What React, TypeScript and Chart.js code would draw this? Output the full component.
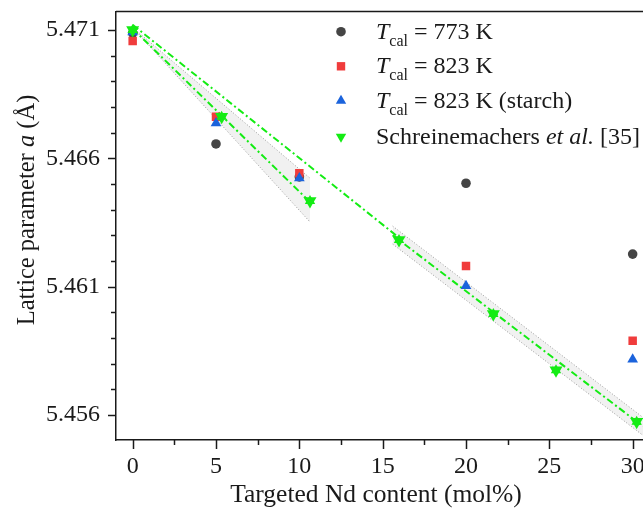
import React, { useEffect, useRef } from 'react';
import { Chart, registerables } from 'chart.js';

Chart.register(...registerables);

// ---- data ----
const tcalX = [0, 5, 10, 20, 30];
const t773 = [5.47088, 5.46656, 5.46528, 5.46503, 5.46227];
const t823 = [5.47057, 5.46762, 5.46542, 5.46181, 5.4589];
const t823Starch = [5.47092, 5.46737, 5.46523, 5.46103, 5.45817];

const schX = [0, 5.34, 10.64, 15.98, 21.64, 25.4, 30.24];
const schY = [5.471, 5.46762, 5.46434, 5.46282, 5.45994, 5.45775, 5.45574];

const fitAllX = [0, 16];
const fitAllY = [5.4712, 5.4629];
const fitLowX = [0, 10.64];
const fitLowY = [5.47105, 5.4643];
const fitHighX = [15.6, 30.62];
const fitHighY = [5.46301, 5.45556];

const bandLowX = [0, 10.64];
const bandLowUpper = [5.4711, 5.46523];
const bandLowLower = [5.4711, 5.46352];
const bandHighX = [15.6, 30.62];
const bandHighUpper = [5.46336, 5.45591];
const bandHighLower = [5.46266, 5.45521];

const xTicks = [0, 2.5, 5, 7.5, 10, 12.5, 15, 17.5, 20, 22.5, 25, 27.5, 30];
const xTickLabels = ['0', '5', '10', '15', '20', '25', '30'];
const yTicks = [5.456, 5.457, 5.458, 5.459, 5.46, 5.461, 5.462, 5.463, 5.464, 5.465, 5.466, 5.467, 5.468, 5.469, 5.47, 5.471];
const yTickLabels = ['5.456', '5.461', '5.466', '5.471'];

const xTitle = 'Targeted Nd content (mol%)';
const yTitleParts = [
  { text: 'Lattice parameter ', italic: false },
  { text: 'a', italic: true },
  { text: ' (Å)', italic: false },
];
const legendRows = [
  [{ text: 'T', italic: true }, { text: 'cal', sub: true }, { text: ' = 773 K' }],
  [{ text: 'T', italic: true }, { text: 'cal', sub: true }, { text: ' = 823 K' }],
  [{ text: 'T', italic: true }, { text: 'cal', sub: true }, { text: ' = 823 K (starch)' }],
  [{ text: 'Schreinemachers ' }, { text: 'et al.', italic: true }, { text: ' [35]' }],
];

const FONT = '"Liberation Serif", "Times New Roman", serif';
const C_BLACK = '#454545';
const C_RED = '#f03c3c';
const C_BLUE = '#1b63dc';
const C_GREEN = '#14ec14';
const INK = '#1a1a1a';

const pts = (xs: number[], ys: number[]) => xs.map((x, i) => ({ x, y: ys[i] }));

function fontOf(p: any, base: number) {
  const size = p.sub ? 16 : base;
  return `${p.italic ? 'italic ' : ''}${size}px ${FONT}`;
}
function richWidth(ctx: CanvasRenderingContext2D, parts: any[], base: number) {
  let w = 0;
  parts.forEach((p) => {
    ctx.font = fontOf(p, base);
    w += ctx.measureText(p.text).width;
  });
  return w;
}
function drawRich(ctx: CanvasRenderingContext2D, parts: any[], x: number, baseline: number, base: number) {
  let cx = x;
  parts.forEach((p) => {
    ctx.font = fontOf(p, base);
    ctx.fillText(p.text, cx, baseline + (p.sub ? 7 : 0));
    cx += ctx.measureText(p.text).width;
  });
}

function drawMarker(ctx: CanvasRenderingContext2D, kind: string, x: number, y: number, color: string) {
  ctx.fillStyle = color;
  ctx.beginPath();
  if (kind === 'circle') {
    ctx.arc(x, y, 4.8, 0, Math.PI * 2);
  } else if (kind === 'rect') {
    ctx.rect(x - 4.2, y - 4.2, 8.4, 8.4);
  } else if (kind === 'up') {
    const r = 6;
    ctx.moveTo(x, y - r);
    ctx.lineTo(x + r * 0.866, y + r * 0.5);
    ctx.lineTo(x - r * 0.866, y + r * 0.5);
    ctx.closePath();
  } else {
    const r = 6;
    ctx.moveTo(x, y + r);
    ctx.lineTo(x + r * 0.866, y - r * 0.5);
    ctx.lineTo(x - r * 0.866, y - r * 0.5);
    ctx.closePath();
  }
  ctx.fill();
}

const isLabel = (v: number, labels: string[]) => labels.some((l) => Math.abs(parseFloat(l) - v) < 1e-7);

const decorPlugin = {
  id: 'decor',
  afterDraw(chart: any) {
    const { ctx, chartArea: a, scales } = chart;
    const x = scales.x;
    const y = scales.y;
    ctx.save();
    ctx.strokeStyle = INK;
    ctx.lineWidth = 1.5;
    // top frame line
    ctx.beginPath();
    ctx.moveTo(a.left, a.top);
    ctx.lineTo(a.right, a.top);
    ctx.stroke();
    // tick marks
    xTicks.forEach((v) => {
      const px = Math.round(x.getPixelForValue(v)) + 0.5;
      const len = isLabel(v, xTickLabels) ? 9 : 5;
      ctx.beginPath();
      ctx.moveTo(px, a.bottom);
      ctx.lineTo(px, a.bottom + len);
      ctx.stroke();
    });
    yTicks.forEach((v) => {
      const py = Math.round(y.getPixelForValue(v)) + 0.5;
      const len = isLabel(v, yTickLabels) ? 8 : 5;
      ctx.beginPath();
      ctx.moveTo(a.left, py);
      ctx.lineTo(a.left - len, py);
      ctx.stroke();
    });
    // axis titles
    ctx.fillStyle = INK;
    ctx.textBaseline = 'alphabetic';
    ctx.textAlign = 'left';
    const xw = richWidth(ctx, [{ text: xTitle }], 25.5);
    drawRich(ctx, [{ text: xTitle }], 376 - xw / 2, 502, 25.5);
    ctx.save();
    ctx.translate(34, 210);
    ctx.rotate(-Math.PI / 2);
    const yw = richWidth(ctx, yTitleParts, 24.5);
    drawRich(ctx, yTitleParts, -yw / 2, 0, 24.5);
    ctx.restore();
    // legend
    const markers = [
      ['circle', C_BLACK],
      ['rect', C_RED],
      ['up', C_BLUE],
      ['down', C_GREEN],
    ];
    const rowY = [31.7, 66.3, 100.7, 136.7];
    legendRows.forEach((row, i) => {
      drawMarker(ctx, markers[i][0], 341, rowY[i], markers[i][1]);
      ctx.fillStyle = INK;
      drawRich(ctx, row, 376, rowY[i] + 7, 24);
    });
    ctx.restore();
  },
};

export default function App() {
  const ref = useRef<HTMLCanvasElement | null>(null);
  useEffect(() => {
    if (!ref.current) return;
    const dash = [7, 3, 2, 3];
    const bandStyle = {
      showLine: true,
      borderColor: '#9a9a9a',
      borderWidth: 1,
      borderDash: [1, 2],
      pointRadius: 0,
      backgroundColor: 'rgba(215,215,215,0.35)',
    };
    const chart = new Chart(ref.current, {
      type: 'line',
      data: {
        datasets: [
          { ...bandStyle, label: 'bandLowUpper', data: pts(bandLowX, bandLowUpper), fill: '+1', order: 20 },
          { ...bandStyle, label: 'bandLowLower', data: pts(bandLowX, bandLowLower), fill: false, order: 19 },
          { ...bandStyle, label: 'bandHighUpper', data: pts(bandHighX, bandHighUpper), fill: '+1', order: 18 },
          { ...bandStyle, label: 'bandHighLower', data: pts(bandHighX, bandHighLower), fill: false, order: 17 },
          { label: 'fitAll', data: pts(fitAllX, fitAllY), showLine: true, borderColor: C_GREEN, borderWidth: 2, borderDash: dash, pointRadius: 0, fill: false, order: 10 },
          { label: 'fitLow', data: pts(fitLowX, fitLowY), showLine: true, borderColor: C_GREEN, borderWidth: 2, borderDash: dash, pointRadius: 0, fill: false, order: 10 },
          { label: 'fitHigh', data: pts(fitHighX, fitHighY), showLine: true, borderColor: C_GREEN, borderWidth: 2, borderDash: dash, pointRadius: 0, fill: false, order: 10 },
          { label: 'Tcal = 773 K', data: pts(tcalX, t773), showLine: false, pointStyle: 'circle', pointRadius: 4.8, pointBackgroundColor: C_BLACK, pointBorderWidth: 0, order: 5 },
          { label: 'Tcal = 823 K', data: pts(tcalX, t823), showLine: false, pointStyle: 'rect', pointRadius: 6, pointBackgroundColor: C_RED, pointBorderWidth: 0, order: 4 },
          { label: 'Tcal = 823 K (starch)', data: pts(tcalX, t823Starch), showLine: false, pointStyle: 'triangle', pointRadius: 6.2, pointBackgroundColor: C_BLUE, pointBorderWidth: 0, order: 3 },
          { label: 'Schreinemachers', data: pts(schX, schY), showLine: false, pointStyle: 'triangle', pointRotation: 180, pointRadius: 7.5, pointBackgroundColor: C_GREEN, pointBorderWidth: 0, order: 2 },
          { label: 'Schreinemachers-up', data: pts(schX, schY), showLine: false, pointStyle: 'triangle', pointRadius: 6, pointBackgroundColor: C_GREEN, pointBorderWidth: 0, order: 1 },
        ] as any,
      },
      options: {
        animation: false,
        responsive: false,
        devicePixelRatio: 1,
        layout: { autoPadding: false, padding: { top: 11.5, right: 0, left: 0, bottom: 0 } },
        plugins: { legend: { display: false }, tooltip: { enabled: false } },
        scales: {
          x: {
            type: 'linear',
            min: -1.0,
            max: 30.62,
            grid: { display: true, drawOnChartArea: false, drawTicks: false },
            border: { display: true, color: INK, width: 1.5 },
            afterBuildTicks: (s: any) => { s.ticks = xTicks.map((v) => ({ value: v })); },
            afterFit: (s: any) => { s.height = 70; s.paddingLeft = 0; s.paddingRight = 0; },
            ticks: {
              autoSkip: false,
              maxRotation: 0,
              padding: 12,
              color: INK,
              font: { family: FONT, size: 24 },
              callback: (v: any) => (isLabel(Number(v), xTickLabels) ? String(Number(v)) : ''),
            },
          },
          y: {
            type: 'linear',
            min: 5.45503,
            max: 5.47172,
            grid: { display: true, drawOnChartArea: false, drawTicks: false },
            border: { display: true, color: INK, width: 1.5 },
            afterBuildTicks: (s: any) => { s.ticks = yTicks.map((v) => ({ value: v })); },
            afterFit: (s: any) => { s.width = 116; s.paddingTop = 0; s.paddingBottom = 0; },
            ticks: {
              autoSkip: false,
              padding: 16,
              color: INK,
              font: { family: FONT, size: 24 },
              callback: (v: any) => (isLabel(Number(v), yTickLabels) ? Number(v).toFixed(3) : ''),
            },
          },
        },
      } as any,
      plugins: [decorPlugin],
    });
    return () => chart.destroy();
  }, []);
  return (
    <div style={{ position: 'absolute', left: 0, top: 0, width: 643, height: 510, background: '#fff' }}>
      <canvas ref={ref} width={643} height={510} style={{ display: 'block' }} />
    </div>
  );
}
